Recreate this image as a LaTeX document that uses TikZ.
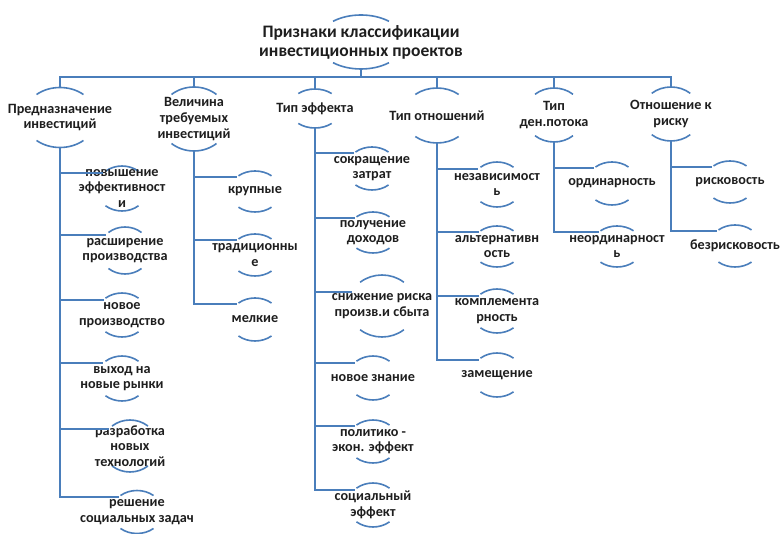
\documentclass[tikz,border=0pt]{standalone}
\usepackage{fontspec}
\setmainfont{Carlito}
\usetikzlibrary{shapes.geometric}
\definecolor{linkblue}{RGB}{74,126,187}
\definecolor{txtgray}{RGB}{30,30,30}
\begin{document}
\begin{tikzpicture}[x=1pt, y=-1pt,
    link/.style={draw=linkblue, line width=2pt},
    rim/.style={draw=linkblue, line width=1.6pt},
    ring/.style 2 args={shape=ellipse, inner sep=0pt, outer sep=0pt,
      minimum width=2*#1pt, minimum height=2*#2pt,
      append after command={\pgfextra{
        \draw[rim] (\tikzlastnode.center) ++(50:#1pt and #2pt)
          arc[start angle=50, end angle=130, x radius=#1pt, y radius=#2pt];
        \draw[rim] (\tikzlastnode.center) ++(230:#1pt and #2pt)
          arc[start angle=230, end angle=310, x radius=#1pt, y radius=#2pt];}}},
    leaf/.style={ring={25.7}{#1}},
    item/.style={font=\bfseries\fontsize{14.2}{15.7}\selectfont, text=txtgray, align=center, inner sep=0pt},
    title/.style={font=\bfseries\fontsize{17.5}{19}\selectfont, text=txtgray, align=center, inner sep=0pt}]

        \fill[white] (0,0) rectangle (780,534);
        \useasboundingbox (0,0) rectangle (780,534);

        \node[ring={43.5}{27}, label={[title]center:Признаки классификации\\инвестиционных проектов}] (root) at (361,42) {};

        \node[ring={36.5}{30}, label={[item]center:Предназначение\\инвестиций}] (c1) at (60,117.5) {};
        \node[ring={35}{32}, label={[item]center:Величина\\требуемых\\инвестиций}] (c2) at (194,119) {};
        \node[ring={26}{19.5}, label={[item]center:Тип эффекта}] (c3) at (315,108.5) {};
        \node[ring={33.7}{27.5}, label={[item]center:Тип отношений}] (c4) at (437,115.5) {};
        \node[ring={29.6}{27}, label={[item]center:Тип\\ден.потока}] (c5) at (554,115) {};
        \node[ring={30}{27}, label={[item]center:Отношение к\\риску}] (c6) at (671,114) {};

        \node[leaf=22.5, label={[item]center:повышение\\эффективност\\и}] (n11) at (122,188.5) {};
        \node[leaf=23.5, label={[item]center:расширение\\производства}] (n12) at (125,250.5) {};
        \node[leaf=22, label={[item]center:новое\\производство}] (n13) at (122,315) {};
        \node[leaf=22.5, label={[item]center:выход на\\новые рынки}] (n14) at (122,378.5) {};
        \node[ring={28}{26}, label={[item]center:разработка\\новых\\технологий}] (n15) at (130,446) {};
        \node[leaf=21.5, label={[item]center:решение\\социальных задач}] (n16) at (137,512) {};

        \node[leaf=20.5, label={[item]center:крупные}] (n21) at (255,191.5) {};
        \node[leaf=21, label={[item]center:традиционны\\е}] (n22) at (255,255) {};
        \node[leaf=21.5, label={[item]center:мелкие}] (n23) at (255,319.5) {};

        \node[leaf=21.5, label={[item]center:сокращение\\затрат}] (n31) at (372,168.5) {};
        \node[leaf=20.5, label={[item]center:получение\\доходов}] (n32) at (373,232.5) {};
        \node[ring={34}{31}, label={[item]center:снижение риска\\произв.и сбыта}] (n33) at (382,306) {};
        \node[leaf=22, label={[item]center:новое знание}] (n34) at (373,378) {};
        \node[leaf=21.5, label={[item]center:политико -\\экон. эффект}] (n35) at (373,441.5) {};
        \node[leaf=22, label={[item]center:социальный\\эффект}] (n36) at (373,505) {};

        \node[leaf=22.5, label={[item]center:независимост\\ь}] (n41) at (497,184.5) {};
        \node[leaf=20.5, label={[item]center:альтернативн\\ость}] (n42) at (497,246.5) {};
        \node[leaf=22, label={[item]center:комплемента\\рность}] (n43) at (497,311) {};
        \node[leaf=22, label={[item]center:замещение}] (n44) at (497,375) {};

        \node[leaf=21.5, label={[item]center:ординарность}] (n51) at (612,183.5) {};
        \node[leaf=20.5, label={[item]center:неординарност\\ь}] (n52) at (617,246.5) {};

        \node[leaf=21, label={[item]center:рисковость}] (n61) at (730,182) {};
        \node[leaf=21, label={[item]center:безрисковость}] (n62) at (735,246) {};

        \coordinate (bar) at (361,77);
        \draw[link] (root.south) -- (bar);
        \draw[link] (c1.north) |- (bar) -| (c6.north);
        \draw[link] (c2.north) -- (c2.north |- bar);
        \draw[link] (c3.north) -- (c3.north |- bar);
        \draw[link] (c4.north) -- (c4.north |- bar);
        \draw[link] (c5.north) -- (c5.north |- bar);

        \draw[link] (c1.south) |- (n11.140);
        \draw[link] (c1.south) |- (n12.140);
        \draw[link] (c1.south) |- (n13.140);
        \draw[link] (c1.south) |- (n14.140);
        \draw[link] (c1.south) |- (n15.140);
        \draw[link] (c1.south) |- (n16.140);

        \draw[link] (c2.south) |- (n21.140);
        \draw[link] (c2.south) |- (n22.140);
        \draw[link] (c2.south) |- (n23.140);

        \draw[link] (c3.south) |- (n31.140);
        \draw[link] (c3.south) |- (n32.140);
        \draw[link] (c3.south) |- (n33.155);
        \draw[link] (c3.south) |- (n34.140);
        \draw[link] (c3.south) |- (n35.140);
        \draw[link] (c3.south) |- (n36.140);

        \draw[link] (c4.south) |- (n41.140);
        \draw[link] (c4.south) |- (n42.140);
        \draw[link] (c4.south) |- (n43.140);
        \draw[link] (c4.south) |- (n44.140);

        \draw[link] (c5.south) |- (n51.140);
        \draw[link] (c5.south) |- (n52.140);

        \draw[link] (c6.south) |- (n61.140);
        \draw[link] (c6.south) |- (n62.140);

    \end{tikzpicture}
\end{document}
